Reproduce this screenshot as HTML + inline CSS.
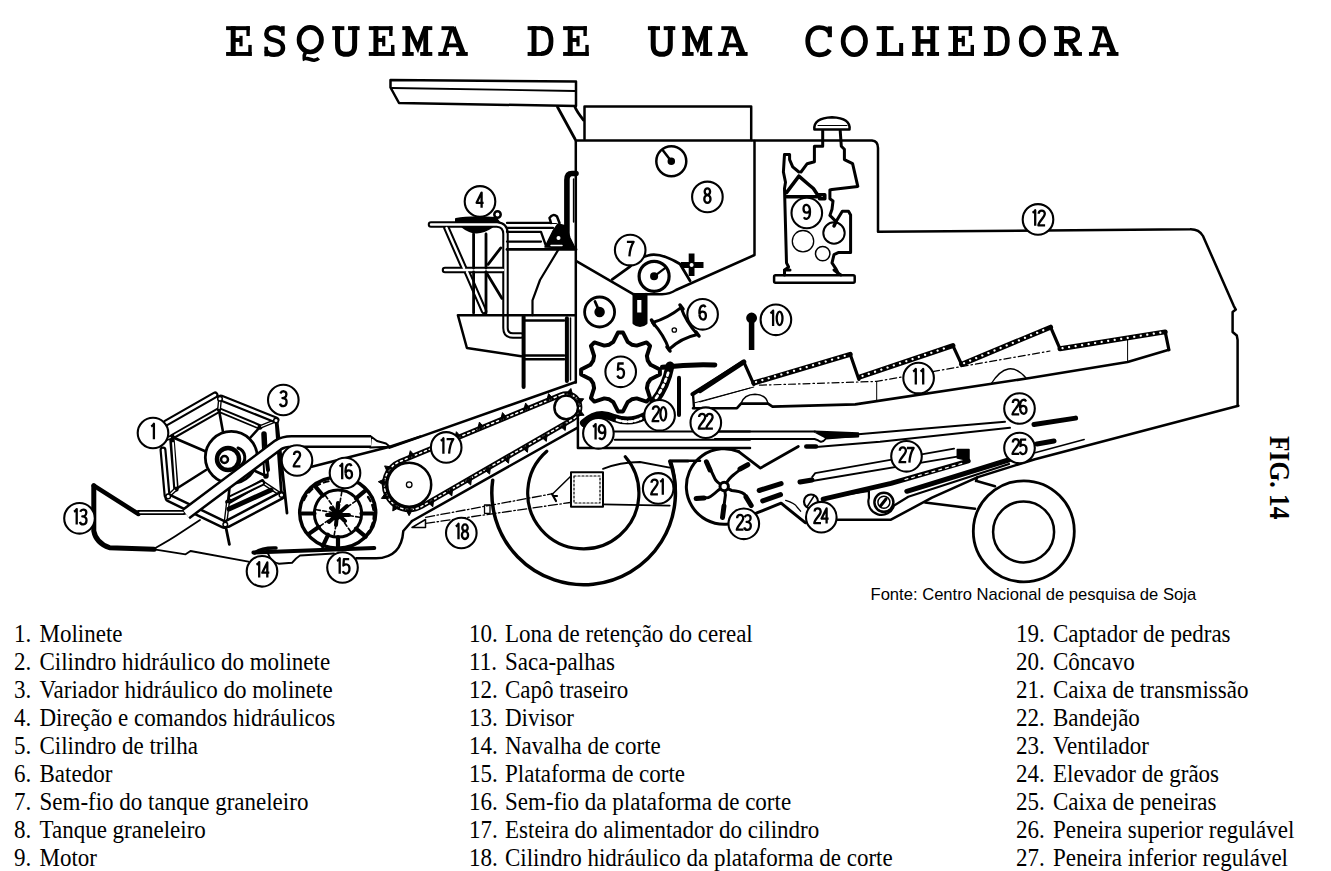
<!DOCTYPE html>
<html><head><meta charset="utf-8">
<style>
html,body{margin:0;padding:0;background:#fff;}
body{width:1331px;height:871px;position:relative;overflow:hidden;}
.t{position:absolute;font-family:"Liberation Mono",monospace;font-weight:bold;font-size:44.5px;letter-spacing:9.8px;line-height:1;color:#000;white-space:pre;}
.col{position:absolute;font-family:"Liberation Serif",serif;font-size:23px;color:#000;}
.row{position:absolute;white-space:pre;line-height:23px;height:23px;transform-origin:0 19.3px;transform:scaleY(1.085);}
.n{position:absolute;left:0;}
.x{position:absolute;}
.fonte{position:absolute;font-family:"Liberation Sans",sans-serif;font-size:16.6px;left:870.5px;top:587px;white-space:pre;line-height:1;}
.fig{position:absolute;font-family:"Liberation Serif",serif;font-weight:bold;font-size:28px;white-space:pre;line-height:1;transform-origin:0 0;transform:rotate(90deg) scale(0.91,1.04);left:1294px;top:436px;}
svg{position:absolute;left:0;top:0;}
.lab text{font-family:"Liberation Sans",sans-serif;font-weight:bold;font-size:20.5px;fill:#000;stroke:none;}
</style></head><body>
<svg class="title" width="1331" height="80" viewBox="0 0 1331 80" fill="none" stroke="#000" stroke-linejoin="miter" stroke-linecap="butt"><g transform="translate(238.90,26.2)"><path d="M-5.7,0 V29.7" stroke-width="5.0"/><path d="M-12.8,1.95 H10.9" stroke-width="3.9"/><path d="M9.2,0 V9.8" stroke-width="3.4"/><path d="M-5.7,13.8 H3.0" stroke-width="3.9"/><path d="M2.1,9.6 V20.1" stroke-width="3.2"/><path d="M-12.8,27.75 H12.8" stroke-width="3.9"/><path d="M11.1,18.7 V29.7" stroke-width="3.4"/></g><g transform="translate(274.58,26.2)"><path d="M8,5.5 C6,2 3,1.2 -0.5,1.2 C-5.5,1.2 -8.2,3.8 -8.2,7.6 C-8.2,11.8 -4.5,13 0.5,14.2 C5.5,15.4 8.4,17.2 8.4,21.8 C8.4,26 5,28.6 -0.5,28.6 C-4,28.6 -7,27.5 -8.5,24.5" stroke-width="4.5"/><path d="M8.3,0 V9.5" stroke-width="3.6"/><path d="M-8.4,20.5 V30" stroke-width="3.6"/></g><g transform="translate(310.26,26.2)"><ellipse cx="0" cy="13.5" rx="11.2" ry="12.3" stroke-width="4.7"/><path d="M-4.5,25.5 C-6,28 -6.5,30 -6,32.5 C-3,31 1,34.5 4,34 C6,33.7 7.5,33 8.5,32" stroke-width="3.6"/></g><g transform="translate(345.94,26.2)"><path d="M-13.7,1.95 H-1.6" stroke-width="3.9"/><path d="M2.1,1.95 H13.7" stroke-width="3.9"/><path d="M-8.4,0 V19 C-8.4,26 -5,28.1 0.2,28.1 C5.4,28.1 8.7,26 8.7,19 V0" stroke-width="5.0"/></g><g transform="translate(381.62,26.2)"><path d="M-5.7,0 V29.7" stroke-width="5.0"/><path d="M-12.8,1.95 H10.9" stroke-width="3.9"/><path d="M9.2,0 V9.8" stroke-width="3.4"/><path d="M-5.7,13.8 H3.0" stroke-width="3.9"/><path d="M2.1,9.6 V20.1" stroke-width="3.2"/><path d="M-12.8,27.75 H12.8" stroke-width="3.9"/><path d="M11.1,18.7 V29.7" stroke-width="3.4"/></g><g transform="translate(417.30,26.2)"><path d="M-9.5,0 V29.7" stroke-width="4.8"/><path d="M8.4,0 V29.7" stroke-width="4.8"/><path d="M-15,1.95 H-8" stroke-width="3.9"/><path d="M7,1.95 H15" stroke-width="3.9"/><path d="M-9,1 L0.5,21.5 L8,1" stroke-width="4.2"/><path d="M-15,27.75 H-3.6" stroke-width="3.9"/><path d="M2.9,27.75 H15" stroke-width="3.9"/></g><g transform="translate(452.98,26.2)"><path d="M-11.5,1.95 H1" stroke-width="3.9"/><path d="M-1.5,1.5 L-9.2,28" stroke-width="3.6"/><path d="M0.2,1 L10.4,28" stroke-width="5.2"/><path d="M-6.5,19.2 H7.5" stroke-width="3.8"/><path d="M-14.7,27.75 H-4" stroke-width="3.9"/><path d="M3.2,27.75 H14.8" stroke-width="3.9"/></g><g transform="translate(540.50,26.2)"><path d="M-6.5,0 V29.7" stroke-width="5.0"/><path d="M-12.9,1.95 H1.5" stroke-width="3.9"/><path d="M-12.9,27.75 H1.5" stroke-width="3.9"/><path d="M0.5,2.1 C8,2.1 10.6,7.5 10.6,14.85 C10.6,22.2 8,27.6 0.5,27.6" stroke-width="4.6"/></g><g transform="translate(575.90,26.2)"><path d="M-5.7,0 V29.7" stroke-width="5.0"/><path d="M-12.8,1.95 H10.9" stroke-width="3.9"/><path d="M9.2,0 V9.8" stroke-width="3.4"/><path d="M-5.7,13.8 H3.0" stroke-width="3.9"/><path d="M2.1,9.6 V20.1" stroke-width="3.2"/><path d="M-12.8,27.75 H12.8" stroke-width="3.9"/><path d="M11.1,18.7 V29.7" stroke-width="3.4"/></g><g transform="translate(661.60,26.2)"><path d="M-13.7,1.95 H-1.6" stroke-width="3.9"/><path d="M2.1,1.95 H13.7" stroke-width="3.9"/><path d="M-8.4,0 V19 C-8.4,26 -5,28.1 0.2,28.1 C5.4,28.1 8.7,26 8.7,19 V0" stroke-width="5.0"/></g><g transform="translate(697.20,26.2)"><path d="M-9.5,0 V29.7" stroke-width="4.8"/><path d="M8.4,0 V29.7" stroke-width="4.8"/><path d="M-15,1.95 H-8" stroke-width="3.9"/><path d="M7,1.95 H15" stroke-width="3.9"/><path d="M-9,1 L0.5,21.5 L8,1" stroke-width="4.2"/><path d="M-15,27.75 H-3.6" stroke-width="3.9"/><path d="M2.9,27.75 H15" stroke-width="3.9"/></g><g transform="translate(732.80,26.2)"><path d="M-11.5,1.95 H1" stroke-width="3.9"/><path d="M-1.5,1.5 L-9.2,28" stroke-width="3.6"/><path d="M0.2,1 L10.4,28" stroke-width="5.2"/><path d="M-6.5,19.2 H7.5" stroke-width="3.8"/><path d="M-14.7,27.75 H-4" stroke-width="3.9"/><path d="M3.2,27.75 H14.8" stroke-width="3.9"/></g><g transform="translate(818.70,26.2)"><path d="M10.8,6.5 C9,2.5 5,1.3 0.5,1.3 C-6.5,1.3 -11,7 -11,14.9 C-11,23 -6.5,28.6 0.5,28.6 C5.5,28.6 9.2,26.5 11,23.5" stroke-width="4.7"/><path d="M11.1,0.2 V11" stroke-width="4.2"/></g><g transform="translate(854.32,26.2)"><ellipse cx="0" cy="14.95" rx="11.2" ry="13.6" stroke-width="4.7"/></g><g transform="translate(889.94,26.2)"><path d="M-5.5,0 V29.7" stroke-width="5.2"/><path d="M-13.3,1.95 H3.6" stroke-width="3.9"/><path d="M-13.3,27.75 H13.2" stroke-width="3.9"/><path d="M11.2,16.8 V29.7" stroke-width="4"/></g><g transform="translate(925.56,26.2)"><path d="M-7.5,0 V29.7" stroke-width="5.0"/><path d="M7.2,0 V29.7" stroke-width="5.0"/><path d="M-13.5,1.95 H-2.1" stroke-width="3.9"/><path d="M1.5,1.95 H13.5" stroke-width="3.9"/><path d="M-13.5,27.75 H-2.1" stroke-width="3.9"/><path d="M1.5,27.75 H13.5" stroke-width="3.9"/><path d="M-7.5,15.2 H7.2" stroke-width="4.6"/></g><g transform="translate(961.18,26.2)"><path d="M-5.7,0 V29.7" stroke-width="5.0"/><path d="M-12.8,1.95 H10.9" stroke-width="3.9"/><path d="M9.2,0 V9.8" stroke-width="3.4"/><path d="M-5.7,13.8 H3.0" stroke-width="3.9"/><path d="M2.1,9.6 V20.1" stroke-width="3.2"/><path d="M-12.8,27.75 H12.8" stroke-width="3.9"/><path d="M11.1,18.7 V29.7" stroke-width="3.4"/></g><g transform="translate(996.80,26.2)"><path d="M-6.5,0 V29.7" stroke-width="5.0"/><path d="M-12.9,1.95 H1.5" stroke-width="3.9"/><path d="M-12.9,27.75 H1.5" stroke-width="3.9"/><path d="M0.5,2.1 C8,2.1 10.6,7.5 10.6,14.85 C10.6,22.2 8,27.6 0.5,27.6" stroke-width="4.6"/></g><g transform="translate(1032.42,26.2)"><ellipse cx="0" cy="14.95" rx="11.2" ry="13.6" stroke-width="4.7"/></g><g transform="translate(1068.04,26.2)"><path d="M-6.5,0 V29.7" stroke-width="5.0"/><path d="M-13.9,1.95 H1.5" stroke-width="3.9"/><path d="M-13.9,27.75 H0.5" stroke-width="3.9"/><path d="M0.5,2.1 C7,2.1 9.8,4.6 9.8,8.6 C9.8,12.6 7,15.1 0.5,15.1 H-6" stroke-width="4.4"/><path d="M1,15.5 L9.5,27.8" stroke-width="4.8"/><path d="M4.5,27.75 H13.9" stroke-width="3.9"/></g><g transform="translate(1103.66,26.2)"><path d="M-11.5,1.95 H1" stroke-width="3.9"/><path d="M-1.5,1.5 L-9.2,28" stroke-width="3.6"/><path d="M0.2,1 L10.4,28" stroke-width="5.2"/><path d="M-6.5,19.2 H7.5" stroke-width="3.8"/><path d="M-14.7,27.75 H-4" stroke-width="3.9"/><path d="M3.2,27.75 H14.8" stroke-width="3.9"/></g></svg>

<div class="col" id="c1" style="left:14px;top:0">
<div class="row" style="top:623px"><span class="n">1.</span><span class="x" style="left:25.5px">Molinete</span></div>
<div class="row" style="top:651px"><span class="n">2.</span><span class="x" style="left:25.5px">Cilindro hidráulico do molinete</span></div>
<div class="row" style="top:679px"><span class="n">3.</span><span class="x" style="left:25.5px">Variador hidráulico do molinete</span></div>
<div class="row" style="top:707px"><span class="n">4.</span><span class="x" style="left:25.5px">Direção e comandos hidráulicos</span></div>
<div class="row" style="top:735px"><span class="n">5.</span><span class="x" style="left:25.5px">Cilindro de trilha</span></div>
<div class="row" style="top:763px"><span class="n">6.</span><span class="x" style="left:25.5px">Batedor</span></div>
<div class="row" style="top:791px"><span class="n">7.</span><span class="x" style="left:25.5px">Sem-fio do tanque graneleiro</span></div>
<div class="row" style="top:819px"><span class="n">8.</span><span class="x" style="left:25.5px">Tanque graneleiro</span></div>
<div class="row" style="top:847px"><span class="n">9.</span><span class="x" style="left:25.5px">Motor</span></div>
</div>

<div class="col" id="c2" style="left:469px;top:0">
<div class="row" style="top:623px"><span class="n">10.</span><span class="x" style="left:36px">Lona de retenção do cereal</span></div>
<div class="row" style="top:651px"><span class="n">11.</span><span class="x" style="left:36px">Saca-palhas</span></div>
<div class="row" style="top:679px"><span class="n">12.</span><span class="x" style="left:36px">Capô traseiro</span></div>
<div class="row" style="top:707px"><span class="n">13.</span><span class="x" style="left:36px">Divisor</span></div>
<div class="row" style="top:735px"><span class="n">14.</span><span class="x" style="left:36px">Navalha de corte</span></div>
<div class="row" style="top:763px"><span class="n">15.</span><span class="x" style="left:36px">Plataforma de corte</span></div>
<div class="row" style="top:791px"><span class="n">16.</span><span class="x" style="left:36px">Sem-fio da plataforma de corte</span></div>
<div class="row" style="top:819px"><span class="n">17.</span><span class="x" style="left:36px">Esteira do alimentador do cilindro</span></div>
<div class="row" style="top:847px"><span class="n">18.</span><span class="x" style="left:36px">Cilindro hidráulico da plataforma de corte</span></div>
</div>

<div class="col" id="c3" style="left:1016px;top:0">
<div class="row" style="top:623px"><span class="n">19.</span><span class="x" style="left:37px">Captador de pedras</span></div>
<div class="row" style="top:651px"><span class="n">20.</span><span class="x" style="left:37px">Côncavo</span></div>
<div class="row" style="top:679px"><span class="n">21.</span><span class="x" style="left:37px">Caixa de transmissão</span></div>
<div class="row" style="top:707px"><span class="n">22.</span><span class="x" style="left:37px">Bandejão</span></div>
<div class="row" style="top:735px"><span class="n">23.</span><span class="x" style="left:37px">Ventilador</span></div>
<div class="row" style="top:763px"><span class="n">24.</span><span class="x" style="left:37px">Elevador de grãos</span></div>
<div class="row" style="top:791px"><span class="n">25.</span><span class="x" style="left:37px">Caixa de peneiras</span></div>
<div class="row" style="top:819px"><span class="n">26.</span><span class="x" style="left:37px">Peneira superior regulável</span></div>
<div class="row" style="top:847px"><span class="n">27.</span><span class="x" style="left:37px">Peneira inferior regulável</span></div>
</div>

<div class="fonte">Fonte: Centro Nacional de pesquisa de Soja</div>
<div class="fig">FIG. 14</div>

<svg width="1331" height="871" viewBox="0 0 1331 871" fill="none" stroke="#000" stroke-width="2.5" stroke-linejoin="round" stroke-linecap="round"><!-- canopy -->
<path d="M390.5,80 L576,81.5 L576,106 L399,103 L390.5,87.5 Z"/>
<path d="M392,88 L575,91" stroke-width="1.8"/>
<path d="M557.5,107 L575,139 M575,107 Q577,112 583.5,120" stroke-width="2.8"/>
<!-- tank top box -->
<path d="M584.5,139 V106.5 H751.2 V140"/>
<!-- main top line tank + hood -->
<path d="M575.8,140.5 H872 Q878,141 878,148 V231.8 L1190,229.3 Q1199,229 1203,236 L1233.7,305.8 L1235.8,309.6 L1232.6,312 V332 L1236.8,335.5 L1237.6,340 V405.7"/>
<!-- tank left wall -->
<path d="M575.8,140.5 V382.4"/>
<!-- tank right wall + bottom V -->
<path d="M754.5,141 V255 L676,290 Q670,294 662,294.2 H633.2 L576.8,261.3"/>
<!-- tank gauge -->
<circle cx="671.3" cy="161.3" r="15" stroke-width="2.5"/>
<path d="M671.3,161.3 L663,150.5" stroke-width="2.5"/>
<circle cx="671.3" cy="161.3" r="2.5" fill="#000"/>

<!-- auger 7 housing -->
<path d="M612.3,279.3 L630,266.6 Q638,258 648,255.5 Q660,252 680,264 L690,280.7" stroke-width="2.8"/>
<circle cx="654.1" cy="276.3" r="15" stroke-width="3.2" fill="#fff"/>
<path d="M654.1,276.3 L666,267.3" stroke-width="2.2"/>
<circle cx="654.1" cy="276.3" r="2.8" fill="#000"/>
<path d="M681,265 H703.5 M691.6,253.5 V276" stroke-width="5.8" stroke-linecap="butt"/>
<circle cx="691.6" cy="265" r="2" fill="#fff" stroke="none"/>
<!-- vertical auger tube -->
<path d="M634,294.2 V323 Q640,328 646,323 V294.2" stroke-width="3" fill="#000"/>
<rect x="637.2" y="300" width="4.2" height="12.5" fill="#fff" stroke="none"/>
<!-- left gauge -->
<circle cx="599.6" cy="312" r="15" stroke-width="2.8"/>
<path d="M599.6,312 L595,301.5" stroke-width="2.8"/>
<circle cx="599.6" cy="312" r="4" fill="#000"/>
<!-- batedor 6 -->
<path d="M652.6,322.5 Q668,318 681,307.6 Q686,322 697.4,334.5 Q681,338 669,349.4 Q664,335 652.6,322.5 Z" stroke-width="3"/>
<circle cx="674.3" cy="330" r="2.2" stroke-width="1.3"/>
<path d="M651.5,320 l3,5 M680,305 l3,4 M696,332 l3,4 M667,347 l3,4" stroke-width="3.5"/>
<!-- lona 10 -->
<path d="M751.6,320 V350" stroke-width="5.5" stroke-linecap="butt"/>
<circle cx="751.6" cy="318" r="4.2" fill="#000"/>

<!-- engine hood area / engine 9 -->
<path d="M814.4,129.6 Q813,118 832,117.2 Q851,118 849.5,129.6 Z" stroke-width="2.5"/>
<path d="M818,125.5 H847" stroke-width="1"/>
<path d="M822.7,130.7 V146.2 H814.4 V161.7 L807.2,163.7 L801,172 M840.2,130.7 L841.3,146.2 L844.4,149.3 V159.6 L852.6,163.7 L857.8,186.4 L832,189.5 L829.9,190 V198.8 L833,201 L832,209.2 L829.9,215.4 L836.1,221.6 L842.3,211.2 H848.5 L850.6,215 V252.6 H838.2 L834,254.6 L832,262.9 L836.1,269.1 L838.2,273.2" stroke-width="3"/>
<path d="M784.5,154.4 H789.6 V159.6 L792.7,166.8 L798.9,172 M784.5,154.4 L783.4,172 L785.5,182.3 L784.5,188.5 L786.5,262.9 L788.6,267 L784.5,270.1 V275" stroke-width="3"/>
<path d="M798.9,176.1 L786.5,192.6 M798.9,176.1 L808,184 L813.4,188.5 L817.5,194.7 H824.8 V198.8 H819.6 M786.5,196.8 H819.6" stroke-width="3.5"/>
<path d="M836.1,221.6 L834,226" stroke-width="3.5"/>
<rect x="774.1" y="275.3" width="80.6" height="7.5" rx="1.5" stroke-width="2.5"/>
<path d="M784.5,270.1 H790 M834,270 L838.2,273.2 L841,275" stroke-width="3"/>
<circle cx="803" cy="241.2" r="10.7" stroke-width="1.3"/>
<circle cx="834" cy="233" r="10.7" stroke-width="2"/>
<circle cx="822.7" cy="253.6" r="7.2" stroke-width="1.5"/>

<!-- cab: handrail and steering -->
<g stroke-width="6.5">
<path d="M431,224.5 H497 Q505.5,225 505.5,234 V328 Q505.5,335.5 513,335.5 H521"/>
<path d="M446.5,228 L464,268"/>
<path d="M445,270 H503"/>
<path d="M467,272 L484,311"/>
</g>
<g stroke-width="2.4" stroke="#fff">
<path d="M431,224.5 H497 Q505.5,225 505.5,234 V328 Q505.5,335.5 513,335.5 H521"/>
<path d="M446.5,228 L464,268"/>
<path d="M445,270 H503"/>
<path d="M467,272 L484,311"/>
</g>
<path d="M473.6,234 V268 M486,234 V268 M473.6,272 V313 M486,272 V313" stroke-width="2.8"/>
<path d="M500.8,247.9 L488.1,264.3 M486,272 L502,298.4" stroke-width="2.8"/>
<path d="M456,219 Q470,216 496,218 L499,222 H456 Z" fill="#000" stroke-width="2"/>
<path d="M462.5,227 Q476,238 492,227 Z" fill="#000" stroke-width="2"/>
<circle cx="497.5" cy="214.5" r="3.2" stroke-width="2.5"/>
<!-- controls right of steering -->
<path d="M507,222.9 H556 M507,227.9 H553" stroke-width="2.3"/>
<path d="M507,231.8 H541 L546,246 M507,241.6 H541" stroke-width="2.3"/>
<path d="M507,249.4 H576" stroke-width="2.8"/>
<path d="M545,247 L553,231 L558,224 L566,226 L570,238 L575,248 Z" fill="#000" stroke-width="1.5"/>
<circle cx="558.5" cy="238" r="2" fill="#fff" stroke="none"/>
<circle cx="567" cy="232" r="2" fill="#fff" stroke="none"/>
<path d="M551,245.5 H562" stroke-width="1.5" stroke="#fff"/>
<path d="M551,223 L549.5,218 Q553,213 557,216.5 L559.5,223" stroke-width="2.5" fill="#fff"/>
<path d="M566.9,242 V180 Q566.9,173.5 572,173.5 H576" stroke-width="5.6"/>
<path d="M573.6,179 V222" stroke-width="1.5"/>
<!-- line below controls (fuel tank) -->
<path d="M558.2,249.9 L540,280 L532.5,300.3 V315.2" stroke-width="2.2"/>

<!-- cab platform -->
<path d="M457.9,315.2 H575.8 M457.9,315.2 L466.9,348 L521.3,356.3" stroke-width="2.5"/>
<path d="M523.6,316.7 V386.9" stroke-width="4"/>
<path d="M566.9,318.2 V380.9" stroke-width="4"/>
<path d="M525,320.4 H564 M525,355.5 H564 M525,359.3 H564" stroke-width="2.5"/>
<path d="M570.5,318 V380" stroke-width="1.5"/>

<!-- feeder house -->
<path d="M575.8,382 L389.5,447.6" stroke-width="2.5"/>
<path d="M577.2,427.9 L412,521" stroke-width="2.5"/>
<path d="M577.9,418 V447.9 H750" stroke-width="2.5"/>
<!-- feeder chain -->

<circle cx="566.2" cy="407.4" r="11.8" stroke-width="2.5" fill="#fff"/>
<circle cx="409.2" cy="484.7" r="22" stroke-width="2.5" fill="#fff"/>
<circle cx="409.2" cy="484.7" r="2.8" stroke-width="1.3"/>

<!-- header / platform -->
<path d="M93.8,485.7 V531 Q96,543 109.5,547.7 L154.2,549.3" stroke-width="5"/>
<path d="M93.8,485.7 L138.5,514" stroke-width="4.5"/>
<path d="M138.5,512.5 H184" stroke-width="5"/>
<path d="M140,512.5 H183" stroke-width="1.6" stroke="#fff"/>
<path d="M155.8,547.7 Q170,540 180.6,532.8 L200,520" stroke-width="1.8"/>
<path d="M154.2,549.3 L185.6,554.3 L190.5,551 L248.4,561.7" stroke-width="1.8"/>
<path d="M253.4,552.5 L374.3,548" stroke-width="4"/>
<path d="M268,553.5 Q271,562 279,563.8 L292,562.8 Q296,558 300,555.5 L334,553.5" stroke-width="2"/>
<path d="M254.5,553 Q262,547.5 276,548" stroke-width="3.5"/>
<path d="M356.4,558.3 H376 C392,558 402,550 403.3,531 L412,521" stroke-width="2.5"/>
<path d="M311.7,466.7 L389.8,446.8 L420,436.6" stroke-width="2.5"/>
<path d="M425.7,517.3 L552.8,493.7 M425.7,523.4 L570.4,502.5" stroke-width="1.3" stroke-dasharray="9 2.5 1.5 2.5"/>
<path d="M412,527.5 L425.5,519.5 V527.5 Z" stroke-width="1.5"/>
<rect x="484.5" y="505" width="5.5" height="8.3" stroke-width="1.3"/>
<path d="M552,494 L556,501 M554,496 h3" stroke-width="2.2"/>

<!-- auger 16 -->
<ellipse cx="337.7" cy="512.7" rx="38" ry="35.5" stroke-width="3.5"/>
<path d="M304,500 A34,32 0 0 1 330,481 M368,497 A32,31 0 0 1 366,535" stroke-width="2.2" stroke-dasharray="5 4"/>
<path d="M314.5,513.5 L302.0,513.5 M318.7,527.0 L308.5,534.1 M328.1,534.8 L322.8,546.1 M338.0,537.0 L338.0,549.5 M356.0,528.6 L365.6,536.6 M361.5,513.5 L374.0,513.5 M356.0,498.4 L365.6,490.4 M322.9,495.5 L314.9,485.9" stroke-width="4.2"/>
<circle cx="338" cy="513.5" r="23.6" stroke-width="3"/>
<path d="M342.9,514.4 L359.7,517.3 M340.9,517.6 L350.6,531.5 M337.1,518.4 L334.2,535.2 M333.9,516.4 L320.0,526.1 M333.1,512.6 L316.3,509.7 M335.1,509.4 L325.4,495.5 M338.9,508.6 L341.8,491.8 M342.1,510.6 L356.0,500.9" stroke-width="1.6" stroke-dasharray="4 2.5"/>
<path d="M329,522 L347,506 M331,508 L345,521 M338,503 L336,525 M327,515 H349" stroke-width="4"/>
<circle cx="337" cy="514.5" r="5" fill="#000" stroke-width="1"/>
<!-- reel 1 (molinete) -->
<g stroke-width="5.5">
<path d="M172,437 L219,410 L260,427 M264,434 L266,476 M262,482 L228,502 M176,489 L172,440"/>
</g>
<g stroke-width="1.8" stroke="#fff">
<path d="M175,435 L219,410 L257,426 M264,437 L266,473 M260,483 L230,500 M176,486 L173,443"/>
</g>
<path d="M220,399 L219,410 M276,420.5 L260,427 M281.5,495 L262,482 M225.3,524.5 L228,502 M168.2,496.4 L176,489 M163,440 L172,437" stroke-width="4"/>
<path d="M220,399 L219,410 M276,420.5 L260,427 M281.5,495 L262,482 M225.3,524.5 L228,502 M168.2,496.4 L176,489 M163,440 L172,437" stroke-width="1.3" stroke="#fff"/>
<path d="M219,410 L223,432 M172,437 L207,452 M260,427 L250,438 M266,476 L253,470 M228,502 L230,483 M176,489 L206,470" stroke-width="2.6"/>
<path d="M229,509 L271,490" stroke-width="5"/>
<path d="M231,498 L262,483" stroke-width="6"/>
<path d="M231,498 L262,483" stroke-width="2" stroke="#fff"/>
<g stroke-width="7">
<path d="M166,423 L215,395 M221,398 L276,420 M163,450 L167,495"/>
</g>
<g stroke-width="2.6" stroke="#fff">
<path d="M166,423 L215,395 M221,398 L276,420 M163,450 L167,495"/>
</g>
<path d="M169,498 L224,524.5 M228,523.5 L281,495.5" stroke-width="9"/>
<path d="M169,498 L224,524.5 M228,523.5 L281,495.5" stroke-width="4" stroke="#fff"/>
<path d="M276,420 L281.5,495 M277,421 L287,513 M225.3,524.5 L229.4,544.4" stroke-width="2.8"/>
<path d="M264,437 L268,470" stroke-width="4"/>
<circle cx="231.3" cy="457.3" r="26" stroke-width="2.8" fill="#fff"/>
<circle cx="228" cy="459" r="11" stroke-width="4.5"/>
<circle cx="224.5" cy="459.5" r="3.5" stroke-width="2.5"/>
<path d="M238,448 A10,10 0 0 1 240,466" stroke-width="3"/>
<circle cx="220" cy="398.8" r="2.3" fill="#fff" stroke-width="1.5"/>
<circle cx="276" cy="420.5" r="2.3" fill="#fff" stroke-width="1.5"/>
<circle cx="281.5" cy="495" r="2.3" fill="#fff" stroke-width="1.5"/>
<circle cx="225.3" cy="524.5" r="2.3" fill="#fff" stroke-width="1.5"/>
<circle cx="168.2" cy="496.4" r="2.3" fill="#fff" stroke-width="1.5"/>
<!-- reel arm (cilindro 2) -->
<path d="M186,514 L278,445 Q283.5,441.5 291.5,441.5 H371" stroke-width="13" stroke-linecap="butt"/>
<path d="M371,436.5 L377,441 L386,443.5 L389.8,446.8 L370,447.5 Z" stroke-width="2" fill="#fff"/>
<path d="M186,514 L278,445 Q283.5,441.5 291.5,441.5 H371" stroke-width="8" stroke="#fff" stroke-linecap="butt"/>

<!-- front wheel -->
<path d="M492.7,480.2 A91.8,91.8 0 1 0 669.9,461.6" stroke-width="3.5"/>
<path d="M546.8,451.3 A55.6,55.6 0 1 0 625.3,456.8" stroke-width="3.2"/>
<!-- transmission box 21 -->
<rect x="571" y="472.3" width="32" height="34.4" stroke-width="2"/>
<rect x="574" y="476" width="26" height="27" stroke-width="1.2" stroke-dasharray="2 2"/>
<path d="M571,476 L552.8,493.7" stroke-width="1.5"/>
<path d="M603,468.9 Q620,462 640,462 L669.7,467.7 M603,504.4 L669.7,505.6" stroke-width="1.8"/>
<path d="M669.7,460.8 H700 M671,461 Q676.5,478 675.8,497" stroke-width="2.5"/>

<!-- threshing: concave & return -->
<path d="M584,423 Q598,410 614,418 Q630,424 645,416" stroke-width="8"/>
<path d="M617,420 Q630,424 641,418.5" stroke-width="2.8" stroke="#fff" stroke-dasharray="3.5 2.5"/>
<path d="M654,402 Q666,387 670,366" stroke-width="9"/>
<path d="M656,398 Q665,385 669,370" stroke-width="2.8" stroke="#fff" stroke-dasharray="2.8 3.5"/>
<path d="M662.5,367.3 Q690,364 714.8,365" stroke-width="5"/>
<path d="M679,377.8 V415" stroke-width="4"/>
<path d="M614.8,431.5 H750 M614.8,439.7 H750" stroke-width="2"/>
<!-- return pan 22 -->
<path d="M692.4,394.2 L743.1,362.1" stroke-width="4"/>
<path d="M693,394 L694,408" stroke-width="2.4"/>
<path d="M694,403 L750,388" stroke-width="1"/>

<!-- straw walkers 11 -->
<path d="M700,390.6 L743.8,361.9 L753.8,384.4 M753.8,383 L850.2,354.3 L858.9,379.4 M860.2,376.9 L952.9,345.6 L961.6,364.4 L1050.6,327.2 L1060,348.8 L1165.2,331.9 L1168.9,349.8" stroke-width="3.2"/>
<path d="M700,390.6 L743.8,361.9 M753.8,383 L850.2,354.3 M860.2,376.9 L952.9,345.6 M961.6,364.4 L1050.6,327.2 M1060,348.8 L1165.2,331.9" stroke-width="5"/>
<path d="M756,382 L848,355 M862.5,376 L950,346.5 M964,363.2 L1048,328.3 M1062.5,348.2 L1163,332.2" stroke-width="2.2" stroke="#fff" stroke-dasharray="0.1 6.5"/>
<path d="M700,402 L753.8,387" stroke-width="1"/><path d="M759.5,385.2 L876.7,381.4 L1050,351" stroke-width="1.2" stroke-dasharray="7 3 1.5 3"/><path d="M876.7,381.4 V400.7" stroke-width="1"/>
<path d="M693,408.2 H737 L741,403.6 H768 L772.5,406.6 L855.2,404.4 L1029.9,378 L1127.6,362 L1168.9,349.8" stroke-width="2.6"/>
<path d="M741,403.6 Q744,394.5 755,394.3 Q766,394.5 768,403.6" stroke-width="1.5"/>
<path d="M1127.6,340 V362" stroke-width="1"/>
<path d="M991,384 Q1008,357 1026,378" stroke-width="1.4"/>

<!-- shoe / sieves -->
<path d="M714,431.5 H814.6 M714.9,439 H814.6 Q818,440 820,441.5 Q823,442.5 826,438.5 L858,436" stroke-width="2"/>
<path d="M814.6,431.6 L858.1,433.3 L858.1,436.5 L826,437.5 Z" stroke-width="2.2" fill="#000"/>
<path d="M858.1,434.2 L1005,421.8" stroke-width="2"/>
<path d="M816,447 L880,441.8 L1010,427.8" stroke-width="2"/>
<path d="M806.3,446.5 H816" stroke-width="4.5"/>
<path d="M1034,424.5 L1075.6,418.1" stroke-width="5"/>
<!-- lower sieve 27 -->
<path d="M812.1,477.1 L815.2,473.1 L954.1,448.7 M812.1,481 L957.3,456.6" stroke-width="1.8"/>
<path d="M800,482 L812,480" stroke-width="5"/>
<path d="M957.3,449.5 H969 V460.5 L957.3,458 Z" fill="#000" stroke-width="1.5"/>
<path d="M823.1,499.2 L891,483.4 L968.3,461" stroke-width="4.8"/>
<path d="M905,479.5 L965,462.5" stroke-width="1.2" stroke="#fff" stroke-dasharray="3 4"/>
<!-- elevator -->
<path d="M906.8,491.3 L1008.5,460" stroke-width="5"/>
<path d="M1037,444 L1054,441" stroke-width="5"/>
<path d="M1035,452.8 L1084.2,439.5" stroke-width="1.5"/>
<path d="M868.9,491.3 V498 A11,11 0 0 0 894.1,505.5 L908.3,496.8 L1009,464" stroke-width="2.2"/>
<path d="M822.7,498.6 L868.9,491.3" stroke-width="1.5"/>
<circle cx="883.9" cy="502.3" r="9.5" stroke-width="2.5"/>
<circle cx="883.9" cy="502.3" r="6" stroke-width="1.5"/>
<path d="M880.5,506 L886,499" stroke-width="3"/>
<!-- chassis bottom -->
<path d="M1238.4,405.7 L1035,459.2 L977.1,477.4 L976,481" stroke-width="2.5"/>
<path d="M835.8,519.7 H891 L932,497.6 L977.8,477.1" stroke-width="2.5"/>
<!-- rear wheel -->
<circle cx="1023.8" cy="531.3" r="50.5" stroke-width="2.8"/>
<circle cx="1023.6" cy="531.9" r="30.5" stroke-width="2.5"/>
<path d="M995,486.3 L977.5,481.3 M975,508.8 L925,502.5" stroke-width="2.5"/>

<!-- fan 23 -->
<path d="M738.7,451.6 A37.8,37.8 0 1 0 743.1,519.2 L758.1,512.4 L781.1,503.2 L805.2,522.7" stroke-width="3"/>
<path d="M738.7,451.6 L760.4,468.1 L798.3,446.5 M670,461.2 H688" stroke-width="2.8"/>
<path d="M759.2,490.5 L781.1,483.6 M762.7,500.9 L780.5,494.6" stroke-width="5"/>
<path d="M724.2,486.5 Q716,482 714.5,477.9 Q711,470 706.4,461.8 M724.2,486.5 Q729,478 734,474.5 Q740,469 747.8,464.7 M724.2,486.5 Q728,489 731.7,490.5 Q740,491 744.3,494 Q748,499 751.2,505.5 M724.2,486.5 Q725,492 725.4,495.1 Q724,506 722.5,517.5 M724.2,486.5 Q720,489 717.9,490.5 Q712,496 708.7,497.4 Q702,498.5 696.1,498.6" stroke-width="3"/>
<path d="M706.4,461.8 L710,470 M747.8,464.7 L740,469 M751.2,505.5 L746,497 M722.5,517.5 L724,506 M696.1,498.6 L704,498" stroke-width="5"/>
<circle cx="724.2" cy="486.5" r="4.2" stroke-width="3" fill="#fff"/>
<circle cx="811" cy="501.5" r="7" stroke-width="2.2"/>
<path d="M807,507 L814,496" stroke-width="1.5"/>
<path d="M785.7,500.3 Q795,503 797,507 L800.6,511.2" stroke-width="1.3"/>

<path d="M561.0,394.9 L399.7,461.6 A25,25 0 1 0 421.7,506.4 L572.9,419.1 A13.5,13.5 0 0 0 561.0,394.9" stroke-width="5"/>
<path d="M561.0,394.9 L399.7,461.6 A25,25 0 1 0 421.7,506.4 L572.9,419.1 A13.5,13.5 0 0 0 561.0,394.9" stroke-width="1.5" stroke="#fff" stroke-dasharray="2.2 3"/>
<path d="M552.8,398.3 L548.6,393.6 L546.7,400.8Z M529.7,407.9 L525.6,403.1 L523.7,410.4Z M506.6,417.4 L502.5,412.6 L500.6,419.9Z M483.6,426.9 L479.4,422.1 L477.6,429.4Z M460.5,436.4 L456.4,431.7 L454.5,438.9Z M437.5,446.0 L433.3,441.2 L431.5,448.5Z M414.4,455.5 L410.3,450.7 L408.4,458.0Z M428.1,502.6 L432.8,506.8 L433.7,499.4Z M447.0,491.7 L451.8,495.9 L452.7,488.5Z M465.9,480.8 L470.7,485.0 L471.6,477.6Z M484.8,469.9 L489.6,474.1 L490.5,466.7Z M503.7,459.0 L508.5,463.2 L509.4,455.8Z M522.6,448.1 L527.4,452.3 L528.3,444.9Z M541.6,437.2 L546.3,441.4 L547.2,434.0Z M560.5,426.3 L565.2,430.5 L566.1,423.0Z M387.4,472.1 L384.6,465.9 L391.3,467.0Z M384.0,485.5 L378.3,481.7 L384.6,479.1Z M388.2,498.6 L381.4,498.4 L385.4,492.9Z M398.7,507.6 L392.8,511.0 L393.2,504.2Z M412.3,509.7 L409.1,515.7 L405.9,509.7Z M566.3,393.5 L570.9,388.5 L572.6,395.1Z M576.9,398.6 L583.7,398.8 L579.7,404.3Z M579.9,409.9 L584.1,415.2 L577.3,415.7Z" fill="#000" stroke-width="1"/>
<path d="M609.2,344.7 L613.3,341.9 L618.0,332.6 L623.0,332.6 L627.7,341.9 L631.8,344.7 L636.7,345.6 L646.6,342.4 L650.1,345.9 L646.9,355.8 L647.8,360.7 L650.6,364.8 L659.9,369.5 L659.9,374.5 L650.6,379.2 L647.8,383.3 L646.9,388.2 L650.1,398.1 L646.6,401.6 L636.7,398.4 L631.8,399.3 L627.7,402.1 L623.0,411.4 L618.0,411.4 L613.3,402.1 L609.2,399.3 L604.3,398.4 L594.4,401.6 L590.9,398.1 L594.1,388.2 L593.2,383.3 L590.4,379.2 L581.1,374.5 L581.1,369.5 L590.4,364.8 L593.2,360.7 L594.1,355.8 L590.9,345.9 L594.4,342.4 L604.3,345.6Z" stroke-width="4" fill="#fff"/>
<g class="lab"><g transform="translate(153,433)"><circle r="15.3" fill="#fff" stroke-width="2.1"/><g stroke-width="2.3" stroke-linecap="butt"><g transform="translate(0.0,-9.2)"><path d="M-1.8,2.6 Q0,1.6 0.9,0 V15.5"/></g></g></g><g transform="translate(297,460.5)"><circle r="15.3" fill="#fff" stroke-width="2.1"/><g stroke-width="2.3" stroke-linecap="butt"><g transform="translate(0.0,-9.2)"><path d="M-3,3.6 C-3,-0.6 3.2,-0.9 3.1,3.6 C3,7.2 -3.1,11.4 -3.3,15.1 H3.4"/></g></g></g><g transform="translate(283.3,400)"><circle r="15.3" fill="#fff" stroke-width="2.1"/><g stroke-width="2.3" stroke-linecap="butt"><g transform="translate(0.0,-9.2)"><path d="M-3,2.6 C-1.6,-0.4 3.2,-0.4 3.1,3.6 C3,6.4 0.6,7.3 -0.9,7.3 C2.4,7.3 3.4,9.3 3.3,11.4 C3.1,16.4 -2.4,16.3 -3.3,12.8"/></g></g></g><g transform="translate(480,201.4)"><circle r="15.3" fill="#fff" stroke-width="2.1"/><g stroke-width="2.3" stroke-linecap="butt"><g transform="translate(0.0,-9.2)"><path d="M1.6,15.5 V0.4 L-3.4,10.6 H3.6"/></g></g></g><g transform="translate(620.7,371.8)"><circle r="15.3" fill="#fff" stroke-width="2.1"/><g stroke-width="2.3" stroke-linecap="butt"><g transform="translate(0.0,-9.2)"><path d="M3,0.9 H-2.3 L-2.8,7.2 C-1.2,5.6 3.3,5.1 3.3,10.3 C3.3,16.4 -2,16.4 -3.3,12.9"/></g></g></g><g transform="translate(702.6,314.3)"><circle r="15.3" fill="#fff" stroke-width="2.1"/><g stroke-width="2.3" stroke-linecap="butt"><g transform="translate(0.0,-9.2)"><path d="M2.9,2.1 C1.6,-0.5 -3.1,-0.6 -3.2,7.4 C-3.3,16 3.3,16.4 3.3,10.6 C3.3,5.3 -2.7,5.6 -3.1,9.6"/></g></g></g><g transform="translate(630.2,250.1)"><circle r="15.3" fill="#fff" stroke-width="2.1"/><g stroke-width="2.3" stroke-linecap="butt"><g transform="translate(0.0,-9.2)"><path d="M-3.3,0.9 H3.4 C1.1,4.4 -0.4,9.4 -0.8,15.5"/></g></g></g><g transform="translate(707.4,196.9)"><circle r="15.3" fill="#fff" stroke-width="2.1"/><g stroke-width="2.3" stroke-linecap="butt"><g transform="translate(0.0,-9.2)"><ellipse cx="0" cy="3.9" rx="2.7" ry="3.3"/><ellipse cx="0" cy="11.3" rx="3.1" ry="3.9"/></g></g></g><g transform="translate(806.8,213)"><circle r="15.3" fill="#fff" stroke-width="2.1"/><g stroke-width="2.3" stroke-linecap="butt"><g transform="translate(0.0,-9.2)"><path d="M-2.9,13.4 C-1.6,16 3.1,16.1 3.2,8.1 C3.3,-0.5 -3.3,-0.9 -3.3,4.9 C-3.3,10.2 2.7,9.9 3.1,5.9"/></g></g></g><g transform="translate(775.9,319.8)"><circle r="15.3" fill="#fff" stroke-width="2.1"/><g stroke-width="2.3" stroke-linecap="butt"><g transform="translate(-3.7,-9.2)"><path d="M-1.8,2.6 Q0,1.6 0.9,0 V15.5"/></g><g transform="translate(3.7,-9.2)"><ellipse cx="0" cy="7.75" rx="2.9" ry="6.7"/></g></g></g><g transform="translate(918.6,378.1)"><circle r="15.3" fill="#fff" stroke-width="2.1"/><g stroke-width="2.3" stroke-linecap="butt"><g transform="translate(-3.7,-9.2)"><path d="M-1.8,2.6 Q0,1.6 0.9,0 V15.5"/></g><g transform="translate(3.7,-9.2)"><path d="M-1.8,2.6 Q0,1.6 0.9,0 V15.5"/></g></g></g><g transform="translate(1038,219.4)"><circle r="15.3" fill="#fff" stroke-width="2.1"/><g stroke-width="2.3" stroke-linecap="butt"><g transform="translate(-3.7,-9.2)"><path d="M-1.8,2.6 Q0,1.6 0.9,0 V15.5"/></g><g transform="translate(3.7,-9.2)"><path d="M-3,3.6 C-3,-0.6 3.2,-0.9 3.1,3.6 C3,7.2 -3.1,11.4 -3.3,15.1 H3.4"/></g></g></g><g transform="translate(79.5,518.3)"><circle r="15.3" fill="#fff" stroke-width="2.1"/><g stroke-width="2.3" stroke-linecap="butt"><g transform="translate(-3.7,-9.2)"><path d="M-1.8,2.6 Q0,1.6 0.9,0 V15.5"/></g><g transform="translate(3.7,-9.2)"><path d="M-3,2.6 C-1.6,-0.4 3.2,-0.4 3.1,3.6 C3,6.4 0.6,7.3 -0.9,7.3 C2.4,7.3 3.4,9.3 3.3,11.4 C3.1,16.4 -2.4,16.3 -3.3,12.8"/></g></g></g><g transform="translate(262,571.3)"><circle r="15.3" fill="#fff" stroke-width="2.1"/><g stroke-width="2.3" stroke-linecap="butt"><g transform="translate(-3.7,-9.2)"><path d="M-1.8,2.6 Q0,1.6 0.9,0 V15.5"/></g><g transform="translate(3.7,-9.2)"><path d="M1.6,15.5 V0.4 L-3.4,10.6 H3.6"/></g></g></g><g transform="translate(342.5,567.5)"><circle r="15.3" fill="#fff" stroke-width="2.1"/><g stroke-width="2.3" stroke-linecap="butt"><g transform="translate(-3.7,-9.2)"><path d="M-1.8,2.6 Q0,1.6 0.9,0 V15.5"/></g><g transform="translate(3.7,-9.2)"><path d="M3,0.9 H-2.3 L-2.8,7.2 C-1.2,5.6 3.3,5.1 3.3,10.3 C3.3,16.4 -2,16.4 -3.3,12.9"/></g></g></g><g transform="translate(345,473)"><circle r="15.3" fill="#fff" stroke-width="2.1"/><g stroke-width="2.3" stroke-linecap="butt"><g transform="translate(-3.7,-9.2)"><path d="M-1.8,2.6 Q0,1.6 0.9,0 V15.5"/></g><g transform="translate(3.7,-9.2)"><path d="M2.9,2.1 C1.6,-0.5 -3.1,-0.6 -3.2,7.4 C-3.3,16 3.3,16.4 3.3,10.6 C3.3,5.3 -2.7,5.6 -3.1,9.6"/></g></g></g><g transform="translate(446.2,447.4)"><circle r="15.3" fill="#fff" stroke-width="2.1"/><g stroke-width="2.3" stroke-linecap="butt"><g transform="translate(-3.7,-9.2)"><path d="M-1.8,2.6 Q0,1.6 0.9,0 V15.5"/></g><g transform="translate(3.7,-9.2)"><path d="M-3.3,0.9 H3.4 C1.1,4.4 -0.4,9.4 -0.8,15.5"/></g></g></g><g transform="translate(461.3,533)"><circle r="15.3" fill="#fff" stroke-width="2.1"/><g stroke-width="2.3" stroke-linecap="butt"><g transform="translate(-3.7,-9.2)"><path d="M-1.8,2.6 Q0,1.6 0.9,0 V15.5"/></g><g transform="translate(3.7,-9.2)"><ellipse cx="0" cy="3.9" rx="2.7" ry="3.3"/><ellipse cx="0" cy="11.3" rx="3.1" ry="3.9"/></g></g></g><g transform="translate(598.4,433.3)"><circle r="15.3" fill="#fff" stroke-width="2.1"/><g stroke-width="2.3" stroke-linecap="butt"><g transform="translate(-3.7,-9.2)"><path d="M-1.8,2.6 Q0,1.6 0.9,0 V15.5"/></g><g transform="translate(3.7,-9.2)"><path d="M-2.9,13.4 C-1.6,16 3.1,16.1 3.2,8.1 C3.3,-0.5 -3.3,-0.9 -3.3,4.9 C-3.3,10.2 2.7,9.9 3.1,5.9"/></g></g></g><g transform="translate(659.6,415.3)"><circle r="15.3" fill="#fff" stroke-width="2.1"/><g stroke-width="2.3" stroke-linecap="butt"><g transform="translate(-3.7,-9.2)"><path d="M-3,3.6 C-3,-0.6 3.2,-0.9 3.1,3.6 C3,7.2 -3.1,11.4 -3.3,15.1 H3.4"/></g><g transform="translate(3.7,-9.2)"><ellipse cx="0" cy="7.75" rx="2.9" ry="6.7"/></g></g></g><g transform="translate(658.2,488.4)"><circle r="15.3" fill="#fff" stroke-width="2.1"/><g stroke-width="2.3" stroke-linecap="butt"><g transform="translate(-3.7,-9.2)"><path d="M-3,3.6 C-3,-0.6 3.2,-0.9 3.1,3.6 C3,7.2 -3.1,11.4 -3.3,15.1 H3.4"/></g><g transform="translate(3.7,-9.2)"><path d="M-1.8,2.6 Q0,1.6 0.9,0 V15.5"/></g></g></g><g transform="translate(705.8,422.7)"><circle r="15.3" fill="#fff" stroke-width="2.1"/><g stroke-width="2.3" stroke-linecap="butt"><g transform="translate(-3.7,-9.2)"><path d="M-3,3.6 C-3,-0.6 3.2,-0.9 3.1,3.6 C3,7.2 -3.1,11.4 -3.3,15.1 H3.4"/></g><g transform="translate(3.7,-9.2)"><path d="M-3,3.6 C-3,-0.6 3.2,-0.9 3.1,3.6 C3,7.2 -3.1,11.4 -3.3,15.1 H3.4"/></g></g></g><g transform="translate(743.8,523.8)"><circle r="15.3" fill="#fff" stroke-width="2.1"/><g stroke-width="2.3" stroke-linecap="butt"><g transform="translate(-3.7,-9.2)"><path d="M-3,3.6 C-3,-0.6 3.2,-0.9 3.1,3.6 C3,7.2 -3.1,11.4 -3.3,15.1 H3.4"/></g><g transform="translate(3.7,-9.2)"><path d="M-3,2.6 C-1.6,-0.4 3.2,-0.4 3.1,3.6 C3,6.4 0.6,7.3 -0.9,7.3 C2.4,7.3 3.4,9.3 3.3,11.4 C3.1,16.4 -2.4,16.3 -3.3,12.8"/></g></g></g><g transform="translate(821.3,517.2)"><circle r="15.3" fill="#fff" stroke-width="2.1"/><g stroke-width="2.3" stroke-linecap="butt"><g transform="translate(-3.7,-9.2)"><path d="M-3,3.6 C-3,-0.6 3.2,-0.9 3.1,3.6 C3,7.2 -3.1,11.4 -3.3,15.1 H3.4"/></g><g transform="translate(3.7,-9.2)"><path d="M1.6,15.5 V0.4 L-3.4,10.6 H3.6"/></g></g></g><g transform="translate(1019.5,448)"><circle r="15.3" fill="#fff" stroke-width="2.1"/><g stroke-width="2.3" stroke-linecap="butt"><g transform="translate(-3.7,-9.2)"><path d="M-3,3.6 C-3,-0.6 3.2,-0.9 3.1,3.6 C3,7.2 -3.1,11.4 -3.3,15.1 H3.4"/></g><g transform="translate(3.7,-9.2)"><path d="M3,0.9 H-2.3 L-2.8,7.2 C-1.2,5.6 3.3,5.1 3.3,10.3 C3.3,16.4 -2,16.4 -3.3,12.9"/></g></g></g><g transform="translate(1019.5,408.5)"><circle r="15.3" fill="#fff" stroke-width="2.1"/><g stroke-width="2.3" stroke-linecap="butt"><g transform="translate(-3.7,-9.2)"><path d="M-3,3.6 C-3,-0.6 3.2,-0.9 3.1,3.6 C3,7.2 -3.1,11.4 -3.3,15.1 H3.4"/></g><g transform="translate(3.7,-9.2)"><path d="M2.9,2.1 C1.6,-0.5 -3.1,-0.6 -3.2,7.4 C-3.3,16 3.3,16.4 3.3,10.6 C3.3,5.3 -2.7,5.6 -3.1,9.6"/></g></g></g><g transform="translate(906.5,456.3)"><circle r="15.3" fill="#fff" stroke-width="2.1"/><g stroke-width="2.3" stroke-linecap="butt"><g transform="translate(-3.7,-9.2)"><path d="M-3,3.6 C-3,-0.6 3.2,-0.9 3.1,3.6 C3,7.2 -3.1,11.4 -3.3,15.1 H3.4"/></g><g transform="translate(3.7,-9.2)"><path d="M-3.3,0.9 H3.4 C1.1,4.4 -0.4,9.4 -0.8,15.5"/></g></g></g></g></svg>
</body></html>
